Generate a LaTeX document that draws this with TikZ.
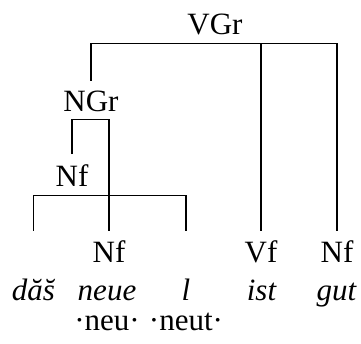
\documentclass[tikz,border=0pt]{standalone}
\usepackage{fontspec}
\setmainfont{Liberation Serif}
\begin{document}
\begin{tikzpicture}[x=1pt,y=-1pt,line width=1.9pt,
        cat/.style={anchor=base,inner sep=9pt,font=\fontsize{31}{36}\selectfont},
        word/.style={anchor=base,inner sep=0pt,font=\fontsize{31}{36}\selectfont\itshape},
        gloss/.style={anchor=base,inner sep=0pt,font=\fontsize{31}{36}\selectfont}]
        \useasboundingbox (0,0) rectangle (361,343);
        \node[cat] (vgr) at (215,34) {VGr};
        \node[cat] (ngr) at (91,111) {NGr};
        \node[cat] (nfa) at (72,186) {Nf};
        \node[cat] (nfb) at (109,262.5) {Nf};
        \node[cat] (vf) at (261,262.5) {Vf};
        \node[cat] (nfc) at (337,262.5) {Nf};
        \node[word] (das) at (33.5,300) {dă\u{s}};
        \node[word] (neue) at (107,300) {neue};
        \node[word] (l) at (186,300) {l};
        \node[word] (ist) at (261.5,300) {ist};
        \node[word] (gut) at (336.5,300) {gut};
        \node[gloss] (neu) at (neue |- 0,330.5) {·neu·};
        \node[gloss] (neut) at (l |- 0,330.5) {·neut·};
        \coordinate (vbar) at (0,43.5);
        \coordinate (nbar) at (0,119.5);
        \coordinate (fbar) at (0,195.5);
        \coordinate (dastop) at (das |- nfb.north);
        \coordinate (ltop) at (l |- nfb.north);
        \draw (ngr.north) |- (nfc.north |- vbar) -- (nfc.north);
        \draw (vf.north) -- (vf.north |- vbar);
        \draw (nfa.north) |- (nfb.north |- nbar) -- (nfb.north);
        \draw (dastop) |- (ltop |- fbar) -- (ltop);
        \end{tikzpicture}
\end{document}
